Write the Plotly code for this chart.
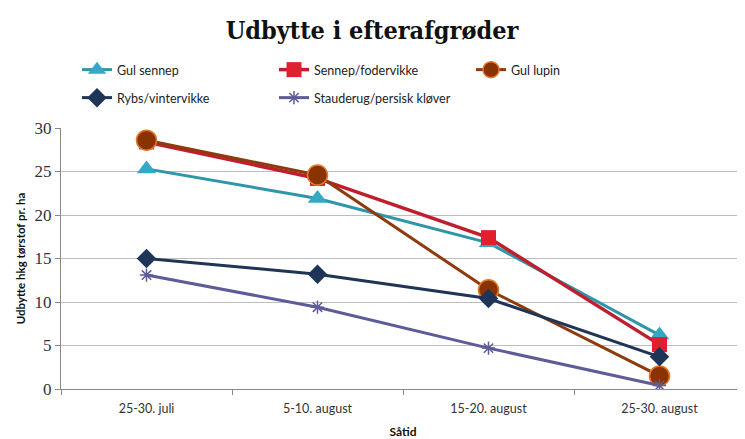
import plotly.graph_objects as go

categories = ["25-30. juli", "5-10. august", "15-20. august", "25-30. august"]
gul_sennep = [25.3, 21.9, 16.8, 6.2]
sennep_fodervikke = [28.4, 24.2, 17.4, 5.1]
gul_lupin = [28.6, 24.6, 11.4, 1.5]
rybs_vintervikke = [15.0, 13.2, 10.4, 3.7]
stauderug_klover = [13.1, 9.4, 4.7, 0.4]
y_ticks = [0, 5, 10, 15, 20, 25, 30]

W, H = 737, 431  # page body has an 8px margin

fig = go.Figure()

def add(name, y, lcolor, lwidth, symbol, msize, mcolor, mline_color=None, mline_width=0, legend="legend"):
    fig.add_trace(go.Scatter(
        x=categories, y=y, name=name, mode="lines+markers",
        line=dict(color=lcolor, width=lwidth),
        marker=dict(symbol=symbol, size=msize, color=mcolor,
                    line=dict(color=mline_color or mcolor, width=mline_width)),
        legend=legend,
    ))

add("Gul sennep", gul_sennep, "#2E95AA", 3, "triangle-up", 17, "#35A8C6")
add("Sennep/fodervikke", sennep_fodervikke, "#BE1E2D", 3.5, "square", 15, "#E0202F")
add("Gul lupin", gul_lupin, "#8E3A0C", 3, "circle", 20, "#8B3300", "#E07A2A", 1.5)
add("Rybs/vintervikke", rybs_vintervikke, "#1E3557", 3, "diamond", 15, "#1E3557", legend="legend2")
add("Stauderug/persisk kløver", stauderug_klover, "#5E5C98", 3, "asterisk-open", 11, "#5E5C98", "#5E5C98", 1.5, legend="legend2")

legend_common = dict(orientation="h", xanchor="left", yanchor="middle",
                     xref="container", yref="container",
                     font=dict(family="Lato", size=12.5, color="#222"),
                     entrywidth=152, entrywidthmode="pixels",
                     bgcolor="rgba(0,0,0,0)", itemwidth=30, tracegroupgap=0)

fig.update_layout(
    width=W, height=H,
    margin=dict(l=53, r=0, t=120, b=50),
    paper_bgcolor="white", plot_bgcolor="white",
    title=dict(text="<b>Udbytte i efterafgrøder</b>", x=(372 - 8) / W, xanchor="center",
               y=1 - 22 / H, yanchor="middle",
               font=dict(family="DejaVu Serif Condensed, DejaVu Serif", size=25, color="#111")),
    legend=dict(x=69 / W, y=1 - 62 / H, **legend_common),
    legend2=dict(x=69 / W, y=1 - 90 / H, **legend_common),
    showlegend=True,
    xaxis=dict(
        type="category", range=[-0.5, 3.5],
        showline=True, linecolor="#888", linewidth=1,
        ticks="outside", tickson="boundaries", ticklen=5, tickcolor="#888",
        ticklabelstandoff=8,
        showgrid=False,
        tickfont=dict(family="Lato", size=12.5, color="#333"),
        title=dict(text="<b>Såtid</b>", font=dict(family="Lato", size=12, color="#111"), standoff=12),
    ),
    yaxis=dict(
        range=[0, 30], tickvals=y_ticks,
        showline=True, linecolor="#888", linewidth=1,
        ticks="outside", ticklen=5, tickcolor="#888",
        showgrid=True, gridcolor="#BDBDBD", gridwidth=1,
        zeroline=False,
        tickfont=dict(family="Times New Roman, Liberation Serif, DejaVu Serif, serif", size=17, color="#333"),
        title=dict(text="<b>Udbytte hkg tørstof pr. ha</b>", font=dict(family="Lato", size=11.5, color="#111"), standoff=6),
    ),
)

fig.write_html("out.html")
